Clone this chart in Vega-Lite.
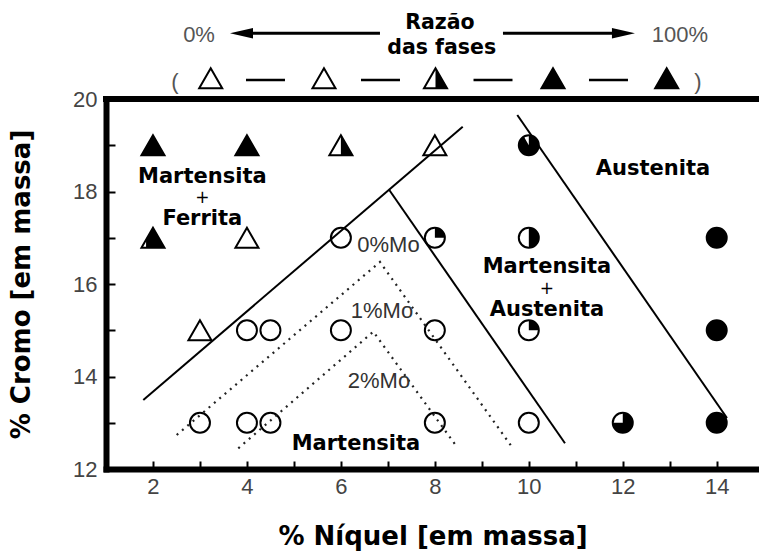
{
  "$schema": "https://vega.github.io/schema/vega-lite/v6.json",
  "autosize": {"type": "none"},
  "padding": {"left": 106, "top": 99, "right": 0, "bottom": 83},
  "width": 653,
  "height": 370,
  "background": "white",
  "config": {"view": {"stroke": null}, "axis": {"grid": false}},
  "datasets": {
    "frame": [{"x": 1, "x2": 14.9, "y": 20}],
    "lines": [
      {"id": "s1", "kind": "solid", "x": 1.794, "y": 13.492},
      {"id": "s1", "kind": "solid", "x": 8.593, "y": 19.401},
      {"id": "s2", "kind": "solid", "x": 7.03, "y": 18.032},
      {"id": "s2", "kind": "solid", "x": 10.77, "y": 12.556},
      {"id": "s3", "kind": "solid", "x": 9.755, "y": 19.654},
      {"id": "s3", "kind": "solid", "x": 14.218, "y": 13.103},
      {"id": "d1", "kind": "dot", "x": 2.505, "y": 12.735},
      {"id": "d1", "kind": "dot", "x": 6.832, "y": 16.476},
      {"id": "d1", "kind": "dot", "x": 9.642, "y": 12.476},
      {"id": "d2", "kind": "dot", "x": 3.816, "y": 12.447},
      {"id": "d2", "kind": "dot", "x": 6.69, "y": 14.969},
      {"id": "d2", "kind": "dot", "x": 8.471, "y": 12.476}
    ],
    "arrows": [
      {"x": 3.852, "x2": 6.832, "y": 21.421},
      {"x": 9.45, "x2": 12.047, "y": 21.421}
    ],
    "heads": [
      {"dir": "left", "x": 3.884, "y": 21.421},
      {"dir": "right", "x": 12.015, "y": 21.421}
    ],
    "dashes": [
      {"x": 3.98, "x2": 4.81, "y": 20.411},
      {"x": 6.428, "x2": 7.258, "y": 20.411},
      {"x": 8.823, "x2": 9.653, "y": 20.411},
      {"x": 11.281, "x2": 12.111, "y": 20.411}
    ],
    "markers": [
      {"x": 2, "y": 19, "m": "tri", "k": "t100"},
      {"x": 4, "y": 19, "m": "tri", "k": "t100"},
      {"x": 6, "y": 19, "m": "tri", "k": "t50"},
      {"x": 8, "y": 19, "m": "tri", "k": "t0"},
      {"x": 2, "y": 17, "m": "tri", "k": "t75"},
      {"x": 4, "y": 17, "m": "tri", "k": "t0"},
      {"x": 3, "y": 15, "m": "tri", "k": "t0"},
      {"x": 3.229, "y": 20.448, "m": "tri", "k": "t0"},
      {"x": 5.64, "y": 20.448, "m": "tri", "k": "t0"},
      {"x": 8.014, "y": 20.448, "m": "tri", "k": "t50"},
      {"x": 10.515, "y": 20.448, "m": "tri", "k": "t100"},
      {"x": 12.935, "y": 20.448, "m": "tri", "k": "t100"},
      {"x": 10, "y": 19, "m": "circ", "k": "c90"},
      {"x": 6, "y": 17, "m": "circ", "k": "c0"},
      {"x": 8, "y": 17, "m": "circ", "k": "c25"},
      {"x": 10, "y": 17, "m": "circ", "k": "c50"},
      {"x": 14, "y": 17, "m": "circ", "k": "c100"},
      {"x": 4, "y": 15, "m": "circ", "k": "c0"},
      {"x": 4.5, "y": 15, "m": "circ", "k": "c0"},
      {"x": 6, "y": 15, "m": "circ", "k": "c0"},
      {"x": 8, "y": 15, "m": "circ", "k": "c0"},
      {"x": 10, "y": 15, "m": "circ", "k": "c25"},
      {"x": 14, "y": 15, "m": "circ", "k": "c100"},
      {"x": 3, "y": 13, "m": "circ", "k": "c0"},
      {"x": 4, "y": 13, "m": "circ", "k": "c0"},
      {"x": 4.5, "y": 13, "m": "circ", "k": "c0"},
      {"x": 8, "y": 13, "m": "circ", "k": "c0"},
      {"x": 10, "y": 13, "m": "circ", "k": "c0"},
      {"x": 12, "y": 13, "m": "circ", "k": "c75"},
      {"x": 14, "y": 13, "m": "circ", "k": "c100"}
    ],
    "texts": [
      {"t": "Martensita", "x": 3.05, "y": 18.32, "g": "b"},
      {"t": "+", "x": 3.05, "y": 17.86, "g": "p"},
      {"t": "Ferrita", "x": 3.05, "y": 17.412, "g": "b"},
      {"t": "Austenita", "x": 12.643, "y": 18.493, "g": "b"},
      {"t": "Martensita", "x": 10.387, "y": 16.36, "g": "b"},
      {"t": "+", "x": 10.387, "y": 15.9, "g": "p"},
      {"t": "Austenita", "x": 10.387, "y": 15.44, "g": "b"},
      {"t": "Martensita", "x": 6.321, "y": 12.547, "g": "b"},
      {"t": "0%Mo", "x": 7.013, "y": 16.835, "g": "mo"},
      {"t": "1%Mo", "x": 6.875, "y": 15.408, "g": "mo"},
      {"t": "2%Mo", "x": 6.811, "y": 13.894, "g": "mo"},
      {"t": "Razão", "x": 8.109, "y": 21.648, "g": "hb"},
      {"t": "das fases", "x": 8.146, "y": 21.094, "g": "hb"},
      {"t": "0%", "x": 2.98, "y": 21.382, "g": "hg"},
      {"t": "100%", "x": 13.218, "y": 21.382, "g": "hg"},
      {"t": "(", "x": 2.469, "y": 20.376, "g": "hg"},
      {"t": ")", "x": 13.601, "y": 20.376, "g": "hg"}
    ]
  },
  "encoding": {
    "x": {
      "field": "x",
      "type": "quantitative",
      "scale": {"domain": [1, 14.9], "nice": false, "zero": false},
      "axis": {
        "values": [2, 3, 4, 5, 6, 7, 8, 9, 10, 11, 12, 13, 14],
        "labelExpr": "datum.value % 2 === 0 ? datum.label : ''",
        "title": "% Níquel [em massa]",
        "grid": false,
        "domain": true,
        "domainColor": "black",
        "domainWidth": 6,
        "domainCap": "square",
        "tickColor": "black",
        "tickWidth": 2,
        "tickSize": -8,
        "labelPadding": 15,
        "labelFont": "Liberation Sans",
        "labelFontSize": 22,
        "labelColor": "#444",
        "labelFlush": false,
        "labelOverlap": false,
        "titleFont": "DejaVu Sans",
        "titleFontWeight": "bold",
        "titleFontSize": 26,
        "titleColor": "black",
        "titlePadding": 26
      }
    },
    "y": {
      "field": "y",
      "type": "quantitative",
      "scale": {"domain": [12, 20], "nice": false, "zero": false},
      "axis": {
        "values": [12, 13, 14, 15, 16, 17, 18, 19, 20],
        "labelExpr": "datum.value % 2 === 0 ? datum.label : ''",
        "title": "% Cromo [em massa]",
        "grid": false,
        "domain": true,
        "domainColor": "black",
        "domainWidth": 6,
        "domainCap": "square",
        "tickColor": "black",
        "tickWidth": 2,
        "tickSize": -9,
        "labelPadding": 18,
        "labelFont": "Liberation Sans",
        "labelFontSize": 22,
        "labelColor": "#444",
        "labelFlush": false,
        "labelOverlap": false,
        "titleFont": "DejaVu Sans",
        "titleFontWeight": "bold",
        "titleFontSize": 26,
        "titleColor": "black",
        "titlePadding": 38
      }
    }
  },
  "layer": [
    {
      "data": {"name": "frame"},
      "mark": {"type": "rule", "color": "black", "strokeWidth": 6, "strokeCap": "square", "clip": false},
      "encoding": {"x2": {"field": "x2"}}
    },
    {
      "data": {"name": "markers"},
      "transform": [{"filter": "datum.m === 'tri'"}],
      "mark": {"type": "point", "shape": "triangle-up", "size": 530, "filled": true, "fill": "white", "stroke": "black", "strokeWidth": 2, "opacity": 1, "clip": false},
      "encoding": {}
    },
    {
      "data": {"name": "markers"},
      "transform": [{"filter": "datum.m === 'tri' && datum.k !== 't0'"}],
      "mark": {"type": "point", "size": 530, "filled": true, "fill": "black", "strokeWidth": 0, "opacity": 1, "clip": false},
      "encoding": {
        "shape": {
          "field": "k",
          "type": "nominal",
          "legend": null,
          "scale": {
            "domain": ["t50", "t75", "t100", "c25", "c50", "c75", "c90", "c100"],
            "range": [
              "M0 -0.866 L1 0.866 L0 0.866 Z",
              "M0 -0.866 L1 0.866 L-0.6 0.866 L-0.6 0.17 Z",
              "triangle-up",
              "M0 0 L0 -1 A1 1 0 0 1 1 0 Z",
              "M0 -1 A1 1 0 0 1 0 1 Z",
              "M0 0 L0 -1 A1 1 0 1 1 -1 0 Z",
              "M0 0 L0 -1 A1 1 0 1 1 -0.5 -0.866 Z",
              "circle"
            ]
          }
        }
      }
    },
    {
      "data": {"name": "markers"},
      "transform": [{"filter": "datum.m === 'circ'"}],
      "mark": {"type": "point", "shape": "circle", "size": 400, "filled": true, "fill": "white", "stroke": "black", "strokeWidth": 2, "opacity": 1, "clip": false},
      "encoding": {}
    },
    {
      "data": {"name": "markers"},
      "transform": [{"filter": "datum.m === 'circ' && datum.k !== 'c0'"}],
      "mark": {"type": "point", "size": 400, "filled": true, "fill": "black", "strokeWidth": 0, "opacity": 1, "clip": false},
      "encoding": {
        "shape": {
          "field": "k",
          "type": "nominal",
          "legend": null,
          "scale": {
            "domain": ["t50", "t75", "t100", "c25", "c50", "c75", "c90", "c100"],
            "range": [
              "M0 -0.866 L1 0.866 L0 0.866 Z",
              "M0 -0.866 L1 0.866 L-0.6 0.866 L-0.6 0.17 Z",
              "triangle-up",
              "M0 0 L0 -1 A1 1 0 0 1 1 0 Z",
              "M0 -1 A1 1 0 0 1 0 1 Z",
              "M0 0 L0 -1 A1 1 0 1 1 -1 0 Z",
              "M0 0 L0 -1 A1 1 0 1 1 -0.5 -0.866 Z",
              "circle"
            ]
          }
        }
      }
    },
    {
      "data": {"name": "lines"},
      "transform": [{"filter": "datum.kind === 'solid'"}],
      "mark": {"type": "line", "color": "black", "strokeWidth": 2, "clip": false},
      "encoding": {"detail": {"field": "id", "type": "nominal"}}
    },
    {
      "data": {"name": "lines"},
      "transform": [{"filter": "datum.kind === 'dot'"}],
      "mark": {"type": "line", "color": "#222", "strokeWidth": 2.2, "strokeDash": [2, 5], "clip": false},
      "encoding": {"detail": {"field": "id", "type": "nominal"}}
    },
    {
      "data": {"name": "arrows"},
      "mark": {"type": "rule", "color": "black", "strokeWidth": 3, "clip": false},
      "encoding": {"x2": {"field": "x2"}}
    },
    {
      "data": {"name": "heads"},
      "transform": [{"filter": "datum.dir === 'left'"}],
      "mark": {"type": "point", "shape": "M-1 0 L1 -0.45 L1 0.45 Z", "size": 529, "filled": true, "fill": "black", "strokeWidth": 0, "opacity": 1, "clip": false},
      "encoding": {}
    },
    {
      "data": {"name": "heads"},
      "transform": [{"filter": "datum.dir === 'right'"}],
      "mark": {"type": "point", "shape": "M1 0 L-1 -0.45 L-1 0.45 Z", "size": 529, "filled": true, "fill": "black", "strokeWidth": 0, "opacity": 1, "clip": false},
      "encoding": {}
    },
    {
      "data": {"name": "dashes"},
      "mark": {"type": "rule", "color": "black", "strokeWidth": 2.5, "clip": false},
      "encoding": {"x2": {"field": "x2"}}
    },
    {
      "data": {"name": "texts"},
      "transform": [{"filter": "datum.g === 'b'"}],
      "mark": {"type": "text", "font": "DejaVu Sans", "fontWeight": "bold", "fontSize": 21, "color": "black", "align": "center", "baseline": "middle", "clip": false},
      "encoding": {"text": {"field": "t"}}
    },
    {
      "data": {"name": "texts"},
      "transform": [{"filter": "datum.g === 'p'"}],
      "mark": {"type": "text", "font": "DejaVu Sans", "fontSize": 17, "color": "black", "align": "center", "baseline": "middle", "clip": false},
      "encoding": {"text": {"field": "t"}}
    },
    {
      "data": {"name": "texts"},
      "transform": [{"filter": "datum.g === 'mo'"}],
      "mark": {"type": "text", "font": "Liberation Sans", "fontSize": 22, "color": "#333", "align": "center", "baseline": "middle", "clip": false},
      "encoding": {"text": {"field": "t"}}
    },
    {
      "data": {"name": "texts"},
      "transform": [{"filter": "datum.g === 'hb'"}],
      "mark": {"type": "text", "font": "DejaVu Sans", "fontWeight": "bold", "fontSize": 20.5, "color": "black", "align": "center", "baseline": "middle", "clip": false},
      "encoding": {"text": {"field": "t"}}
    },
    {
      "data": {"name": "texts"},
      "transform": [{"filter": "datum.g === 'hg'"}],
      "mark": {"type": "text", "font": "Liberation Sans", "fontSize": 22, "color": "#555", "align": "center", "baseline": "middle", "clip": false},
      "encoding": {"text": {"field": "t"}}
    }
  ]
}
